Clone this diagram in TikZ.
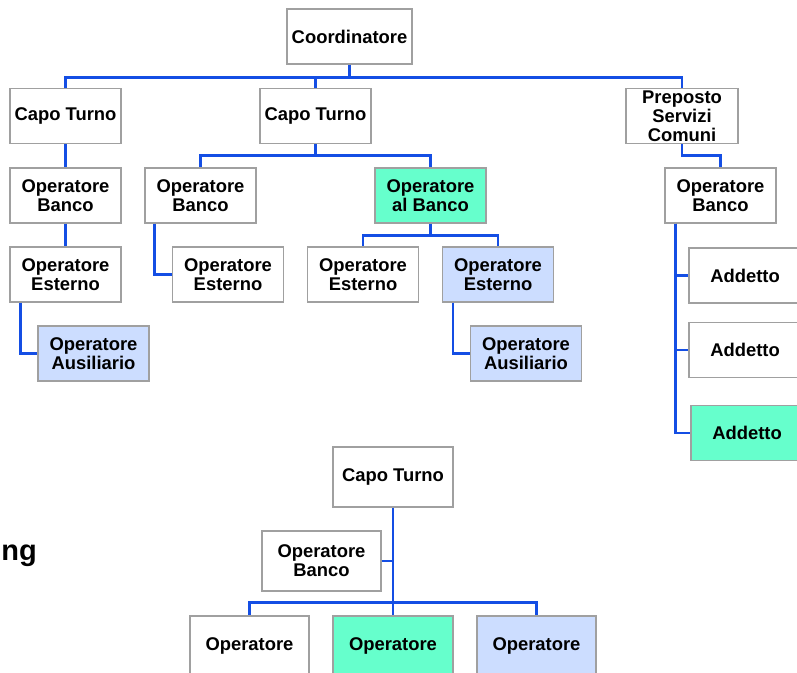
\documentclass[tikz,border=0pt]{standalone}
\usepackage{fontspec}
\setmainfont{Liberation Sans}
\definecolor{boxgrey}{RGB}{160,160,160}
\definecolor{linkblue}{RGB}{20,78,228}
\definecolor{mint}{RGB}{102,255,204}
\definecolor{pale}{RGB}{204,221,255}
\begin{document}
\begin{tikzpicture}
	[x=1pt,y=-1pt,
	 box/.style={rectangle,draw=boxgrey,line width=1.2pt,fill=white,align=center,inner sep=0pt,
	   minimum width=111,minimum height=55,font=\fontsize{18.4}{18.8}\selectfont\bfseries},
	 wide/.style={box,minimum width=120,minimum height=60},
	 link/.style={draw=linkblue,line width=2.8pt}]
    \clip (0,0) rectangle (797,672);

    \node[anchor=base east,inner sep=0pt,font=\fontsize{29}{30}\selectfont\bfseries] (title) at (37,560) {ng};

    \node[box,minimum width=125] (coord) at (349.5,36.5) {Coordinatore};
    \node[box] (ct1) at (65.5,116) {Capo Turno};
    \node[box] (ct2) at (315.5,116) {Capo Turno};
    \node[box,minimum width=112] (prep) at (682,116) {Preposto\\Servizi\\Comuni};

    \node[box] (ob1) at (65.5,195.5) {Operatore\\Banco};
    \node[box] (ob2) at (200.5,195.5) {Operatore\\Banco};
    \node[box,fill=mint] (oab) at (430.5,195.5) {Operatore\\al Banco};
    \node[box] (ob3) at (720.5,195.5) {Operatore\\Banco};

    \node[box] (oe1) at (65.5,274.5) {Operatore\\Esterno};
    \node[box] (oe2) at (228,274.5) {Operatore\\Esterno};
    \node[box] (oe3) at (363,274.5) {Operatore\\Esterno};
    \node[box,fill=pale] (oe4) at (498,274.5) {Operatore\\Esterno};

    \node[box,fill=pale] (oa1) at (93.5,353.5) {Operatore\\Ausiliario};
    \node[box,fill=pale] (oa2) at (526,353.5) {Operatore\\Ausiliario};

    \node[box,minimum width=112] (ad1) at (745,275.5) {Addetto};
    \node[box,minimum width=112] (ad2) at (745,350) {Addetto};
    \node[box,minimum width=112,fill=mint] (ad3) at (747,433) {Addetto};

    \node[wide] (ct4) at (393,477) {Capo Turno};
    \node[wide,minimum width=119] (ob4) at (321.5,561) {Operatore\\Banco};
    \node[wide,minimum width=119] (op1) at (249.5,646) {Operatore};
    \node[wide,fill=mint] (op2) at (393,646) {Operatore};
    \node[wide,minimum width=119,fill=pale] (op3) at (536.5,646) {Operatore};

    \draw[link] (coord.south) -- ++(0,13) -| (ct1.north);
    \draw[link] (coord.south) ++(0,13) -| (ct2.north);
    \draw[link] (coord.south) ++(0,13) -| (prep.north);

    \draw[link] (ct1) -- (ob1);
    \draw[link] (ob1) -- (oe1);
    \draw[link] ([xshift=11pt]oe1.south west) |- (oa1.west);

    \draw[link] (ct2.south) -- ++(0,11) -| (ob2.north);
    \draw[link] (ct2.south) ++(0,11) -| (oab.north);
    \draw[link] ([xshift=10pt]ob2.south west) |- (oe2.west);
    \draw[link] (oab.south) -- ++(0,12) -| (oe3.north);
    \draw[link] (oab.south) ++(0,12) -| (oe4.north);
    \draw[link] ([xshift=11pt]oe4.south west) |- (oa2.west);

    \draw[link] (prep.south) -- ++(0,11) -| (ob3.north);
    \draw[link] ([xshift=11pt]ob3.south west) |- (ad1.west);
    \draw[link] ([xshift=11pt]ob3.south west) |- (ad2.west);
    \draw[link] ([xshift=11pt]ob3.south west) |- (ad3.west);

    \draw[link] (ct4) -- (op2);
    \draw[link] (ob4.east) -- (ob4.east -| ct4.south);
    \draw[link] (op2.north) ++(0,-13) -| (op1.north);
    \draw[link] (op2.north) ++(0,-13) -| (op3.north);

\end{tikzpicture}
\end{document}
